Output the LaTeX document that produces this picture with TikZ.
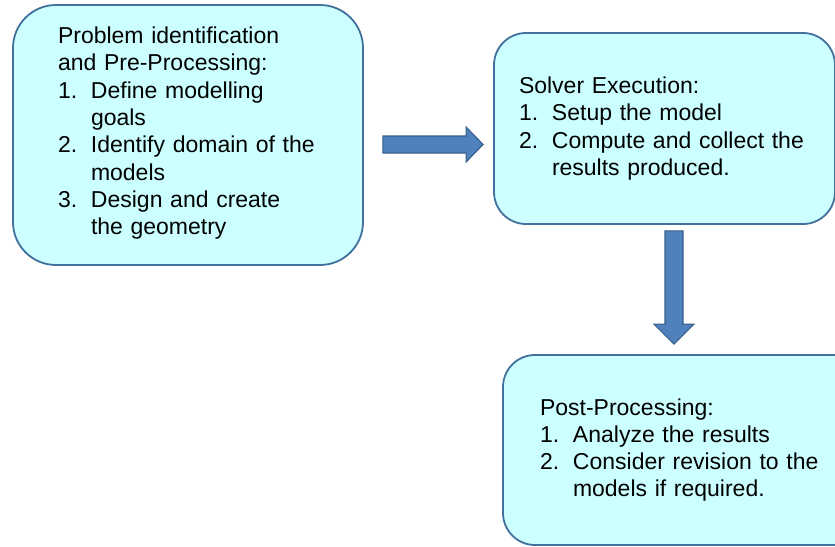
\documentclass[tikz,border=0pt]{standalone}
\usepackage{fontspec}
\setmainfont{Liberation Sans}
\usepackage{tikz}
\usetikzlibrary{positioning, calc}

\definecolor{boxfill}{HTML}{CCFFFF}
\definecolor{boxline}{HTML}{41719C}
\definecolor{arrowfill}{HTML}{4F81BD}
\definecolor{arrowline}{HTML}{385D8A}

% numbered line and its hanging continuation
\newcommand{\numitem}[2]{\makebox[33pt][l]{#1}#2}
\newcommand{\contline}[1]{\hspace*{33pt}#1}

\begin{document}
\begin{tikzpicture}[x=1pt, y=-1pt]
\tikzstyle{stage_box}=[rectangle, draw=boxline, fill=boxfill, line width=1.8pt, align=left, inner ysep=0pt, font=\fontsize{23}{27.3}\selectfont]
\tikzstyle{block_arrow}=[draw=arrowline, fill=arrowfill, line width=1.1pt, line join=miter]

\useasboundingbox (0,0) rectangle (835,546);

\node[stage_box, rounded corners=43pt, minimum width=350pt, minimum height=260pt, inner xsep=45pt, text width=260pt] at (188,135) (prep) {Problem identification\\
and Pre-Processing:\\
\numitem{1.}{Define modelling}\\
\contline{goals}\\
\numitem{2.}{Identify domain of the}\\
\contline{models}\\
\numitem{3.}{Design and create}\\
\contline{the geometry}\\[-19pt]
\mbox{}};

\node[stage_box, rounded corners=32pt, minimum width=341pt, minimum height=191pt, inner xsep=25pt, text width=291pt] at (664.5,128.5) (solve) {Solver Execution:\\
\numitem{1.}{Setup the model}\\
\numitem{2.}{Compute and collect the}\\
\contline{results produced.}};

\node[stage_box, rounded corners=32pt, minimum width=374pt, minimum height=190pt, inner xsep=37pt, text width=300pt] at (690,450) (post) {Post-Processing:\\
\numitem{1.}{Analyze the results}\\
\numitem{2.}{Consider revision to the}\\
\contline{models if required.}};

%block arrows between the stages
\coordinate (r0) at ($(prep.east)+(19,9.5)$);
\coordinate (r1) at ($(solve.west)+(-10,16)$);
\path [block_arrow] ($(r0)+(0,-8.5)$) -- ($(r1)+(-17,-8.5)$) -- ($(r1)+(-17,-17.5)$) -- (r1)
  -- ($(r1)+(-17,17.5)$) -- ($(r1)+(-17,8.5)$) -- ($(r0)+(0,8.5)$) -- cycle;

\coordinate (d0) at ($(solve.south)+(9.5,6)$);
\coordinate (d1) at ($(post.north)+(-16,-10)$);
\path [block_arrow] ($(d0)+(-9,0)$) -- ($(d0)+(9,0)$) -- ($(d1)+(9,-20)$) -- ($(d1)+(20,-20)$) -- (d1)
  -- ($(d1)+(-20,-20)$) -- ($(d1)+(-9,-20)$) -- cycle;

\end{tikzpicture}
\end{document}
